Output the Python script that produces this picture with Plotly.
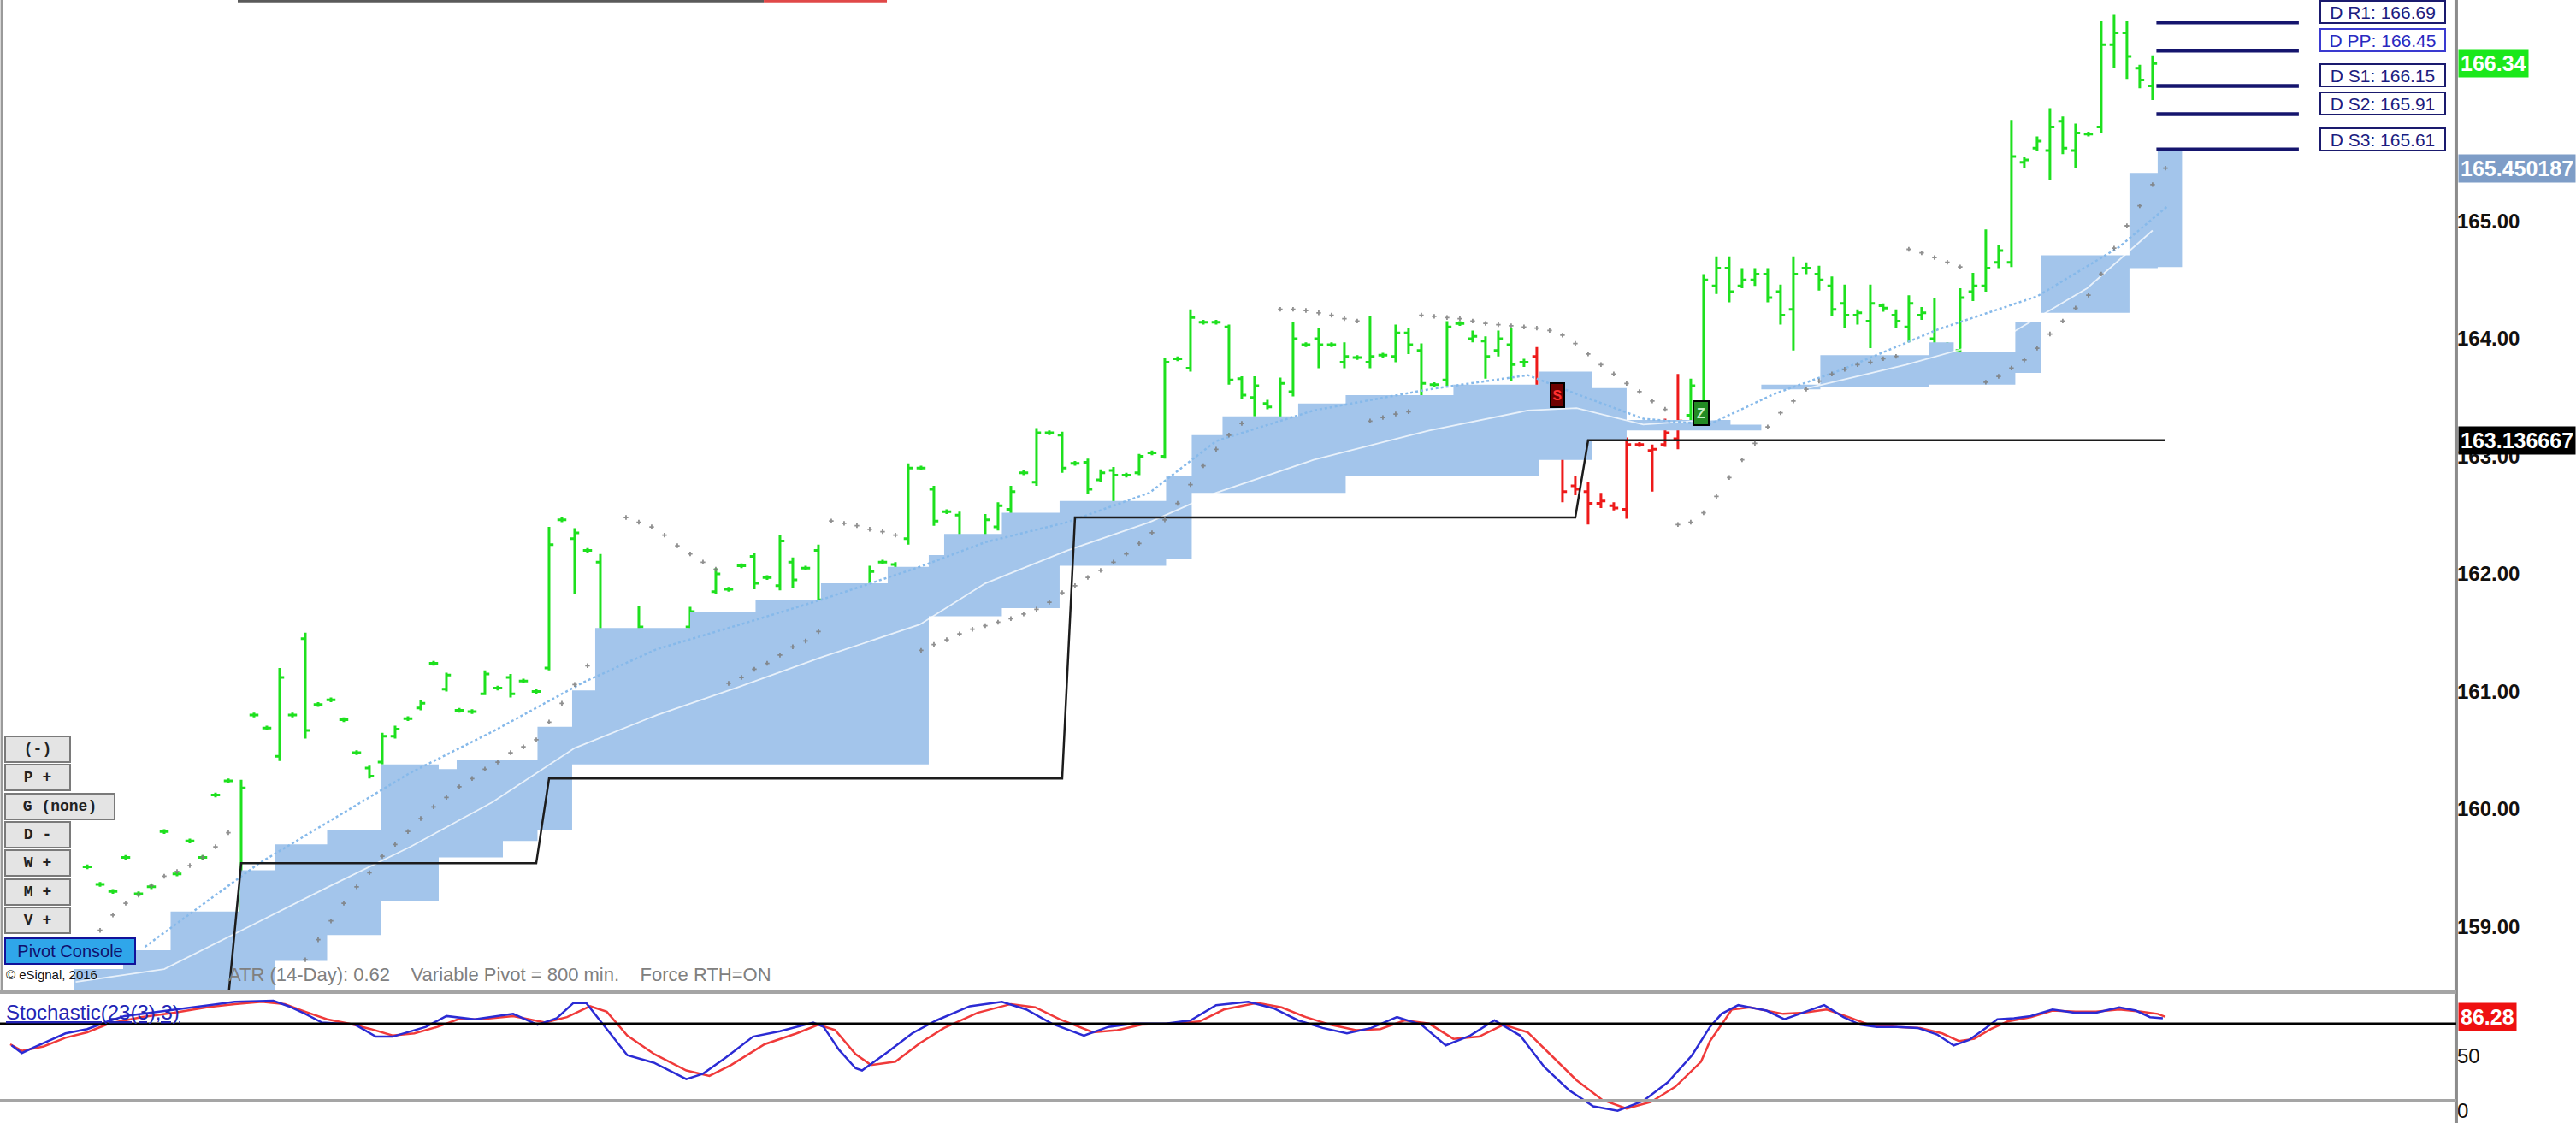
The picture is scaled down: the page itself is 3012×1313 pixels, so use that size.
import plotly.graph_objs as go

# ---------------- price bars (bar number = position in the list) ----------------
opens = [159.51, 159.36, 159.30, 159.59, 159.28, 159.34, 159.81, 159.45, 159.73, 159.59,
         160.12, 160.24, 158.60, 160.80, 160.69, 160.45, 160.80, 161.45, 160.89, 160.93,
         160.76, 160.48, 160.35, 160.40, 160.62, 160.77, 160.86, 161.24, 161.02, 160.84,
         160.83, 160.98, 161.03, 161.12, 161.09, 161.00, 161.20, 162.46, 162.30, 162.20,
         162.10, 161.42, 161.50, 161.35, 161.22, 161.14, 161.25, 161.55, 161.60, 161.85,
         161.87, 162.07, 162.15, 161.97, 161.90, 162.10, 162.05, 162.20, 161.68, 161.65,
         161.56, 161.82, 162.10, 162.08, 162.30, 162.90, 162.72, 162.53, 162.50, 162.24,
         162.28, 162.40, 162.55, 162.86, 162.78, 163.20, 163.18, 162.94, 162.95, 162.80,
         162.88, 162.84, 162.86, 163.03, 163.00, 163.83, 163.75, 164.14, 164.14, 164.10,
         163.66, 163.50, 163.45, 163.30, 163.55, 163.95, 164.00, 163.95, 163.80, 163.84,
         163.80, 163.86, 163.85, 164.05, 163.90, 163.61, 163.65, 164.13, 164.00, 163.98,
         163.90, 163.95, 163.80, 163.85, 163.30, 163.50, 162.75, 162.70, 162.60, 162.58,
         162.55, 163.10, 163.05, 163.10, 163.15, 163.35, 163.40, 164.45, 164.60, 164.45,
         164.50, 164.55, 164.40, 164.25, 164.60, 164.55, 164.45, 164.30, 164.20, 164.15,
         164.28, 164.20, 164.10, 164.20, 164.00, 163.95, 163.90, 164.40, 164.45, 164.65,
         164.65, 165.50, 165.62, 165.60, 165.85, 165.60, 165.74, 165.80, 166.50, 166.60,
         166.30, 166.15]
highs = [159.53, 159.38, 159.32, 159.61, 159.30, 159.36, 159.83, 159.47, 159.75, 159.61,
         160.14, 160.26, 160.25, 160.82, 160.71, 161.20, 160.82, 161.50, 160.91, 160.95,
         160.78, 160.50, 160.37, 160.65, 160.71, 160.79, 160.93, 161.26, 161.16, 160.86,
         160.85, 161.18, 161.05, 161.15, 161.11, 161.02, 162.40, 162.48, 162.39, 162.22,
         162.17, 161.44, 161.52, 161.73, 161.26, 161.16, 161.45, 161.72, 161.62, 162.05,
         161.89, 162.09, 162.18, 161.99, 162.33, 162.14, 162.07, 162.25, 161.70, 161.70,
         161.58, 162.07, 162.12, 162.10, 162.94, 162.92, 162.75, 162.55, 162.53, 162.26,
         162.51, 162.61, 162.75, 162.88, 163.24, 163.22, 163.21, 162.96, 162.98, 162.89,
         162.91, 162.86, 163.02, 163.05, 163.84, 163.85, 164.25, 164.16, 164.16, 164.12,
         163.68, 163.68, 163.48, 163.67, 164.14, 163.97, 164.09, 163.97, 163.97, 163.86,
         164.19, 163.88, 164.12, 164.09, 163.96, 163.63, 164.15, 164.15, 164.07, 164.02,
         164.07, 164.09, 163.83, 163.93, 163.61, 163.56, 162.83, 162.78, 162.69, 162.61,
         163.16, 163.12, 163.10, 163.32, 163.70, 163.66, 164.55, 164.70, 164.70, 164.60,
         164.60, 164.60, 164.46, 164.70, 164.65, 164.62, 164.53, 164.46, 164.25, 164.46,
         164.30, 164.25, 164.37, 164.27, 164.35, 163.97, 164.43, 164.56, 164.93, 164.80,
         165.86, 165.55, 165.72, 165.96, 165.89, 165.83, 165.76, 166.70, 166.76, 166.70,
         166.33, 166.41]
lows = [159.49, 159.34, 159.28, 159.57, 159.26, 159.32, 159.79, 159.43, 159.71, 159.57,
        160.10, 160.22, 158.45, 160.78, 160.67, 160.41, 160.78, 160.60, 160.87, 160.91,
        160.74, 160.46, 160.26, 160.38, 160.60, 160.75, 160.84, 161.22, 161.00, 160.82,
        160.81, 160.97, 161.01, 160.95, 161.07, 160.98, 161.18, 162.44, 161.83, 162.18,
        161.36, 161.40, 161.48, 161.29, 161.05, 161.12, 161.21, 161.53, 161.58, 161.83,
        161.85, 162.05, 161.87, 161.95, 161.86, 161.88, 162.03, 161.74, 161.66, 161.34,
        161.54, 161.80, 162.08, 161.86, 162.25, 162.88, 162.41, 162.51, 162.16, 162.22,
        162.24, 162.37, 162.51, 162.84, 162.75, 163.18, 162.86, 162.92, 162.68, 162.78,
        162.34, 162.82, 162.84, 163.01, 162.98, 163.81, 163.72, 164.12, 164.12, 163.61,
        163.49, 163.34, 163.40, 163.27, 163.51, 163.93, 163.75, 163.93, 163.75, 163.82,
        163.75, 163.84, 163.80, 163.87, 163.29, 163.59, 163.60, 164.11, 163.97, 163.66,
        163.85, 163.64, 163.76, 163.03, 163.12, 162.61, 162.67, 162.42, 162.56, 162.54,
        162.47, 163.08, 162.70, 163.08, 163.06, 163.29, 163.34, 164.38, 164.31, 164.43,
        164.45, 164.31, 164.12, 163.90, 164.55, 164.41, 164.19, 164.09, 164.12, 163.92,
        164.23, 164.09, 163.97, 164.16, 163.63, 163.93, 163.84, 164.32, 164.40, 164.60,
        164.61, 165.45, 165.60, 165.35, 165.57, 165.45, 165.72, 165.75, 166.30, 166.21,
        166.13, 166.03]
closes = [159.51, 159.36, 159.30, 159.59, 159.28, 159.34, 159.81, 159.45, 159.73, 159.59,
          160.12, 160.24, 160.18, 160.80, 160.69, 161.12, 160.80, 160.67, 160.89, 160.93,
          160.76, 160.48, 160.28, 160.62, 160.68, 160.77, 160.90, 161.24, 161.14, 160.84,
          160.83, 161.15, 161.03, 160.98, 161.09, 161.00, 162.25, 162.46, 162.35, 162.20,
          161.45, 161.42, 161.50, 161.55, 161.12, 161.14, 161.40, 161.68, 161.60, 162.00,
          161.87, 162.07, 161.92, 161.97, 162.28, 161.95, 162.05, 161.78, 161.68, 161.40,
          161.56, 162.02, 162.10, 161.90, 162.90, 162.90, 162.45, 162.53, 162.20, 162.24,
          162.46, 162.58, 162.70, 162.86, 163.20, 163.20, 162.90, 162.94, 162.72, 162.86,
          162.84, 162.84, 163.00, 163.03, 163.80, 163.83, 164.18, 164.14, 164.14, 163.65,
          163.52, 163.60, 163.42, 163.62, 164.00, 163.95, 163.95, 163.95, 163.85, 163.84,
          163.85, 163.86, 164.05, 163.95, 163.62, 163.61, 164.10, 164.13, 164.02, 163.85,
          164.00, 163.78, 163.80, 163.25, 163.45, 162.70, 162.72, 162.60, 162.62, 162.56,
          163.10, 163.10, 163.06, 163.20, 163.30, 163.60, 164.50, 164.60, 164.40, 164.50,
          164.55, 164.35, 164.20, 164.55, 164.60, 164.50, 164.25, 164.20, 164.22, 164.30,
          164.26, 164.15, 164.30, 164.22, 163.95, 163.95, 164.35, 164.45, 164.60, 164.75,
          165.55, 165.52, 165.68, 165.80, 165.62, 165.75, 165.74, 166.50, 166.60, 166.40,
          166.20, 166.34]
# bars painted red (down trend)
red_bars = [113, 114, 115, 116, 117, 118, 119, 120, 121, 122, 123, 124]

# ---------------- stepped blue cloud ----------------
cloud_x = [-1.0, 2.8, 6.5, 11.9, 14.6, 18.7, 22.9, 27.4, 28.8, 32.4, 35.1, 37.8, 39.6, 47.0,
           52.1, 57.2, 62.4, 65.6, 66.8, 71.3, 75.8, 84.1, 86.1, 88.5, 94.4, 98.1, 106.5,
           113.2, 117.3, 120.0, 128.1, 130.5, 135.1, 143.6, 145.5, 150.3, 152.3, 159.2,
           161.4, 163.3]
cloud_top = [158.64, 158.80, 159.13, 159.48, 159.70, 159.82, 160.38, 160.34, 160.42, 160.42,
             160.70, 161.01, 161.54, 161.68, 161.78, 161.92, 162.06, 162.16, 162.34, 162.52,
             162.62, 162.83, 163.18, 163.34, 163.45, 163.52, 163.61, 163.72, 163.58, 163.31,
             163.27, 163.61, 163.86, 163.97, 163.89, 164.14, 164.71, 165.41, 165.61, 165.61]
cloud_bottom = [158.40, 158.40, 158.40, 158.40, 158.71, 158.93, 159.22, 159.59, 159.59, 159.73,
                159.82, 160.38, 160.38, 160.38, 160.38, 160.38, 160.38, 161.64, 161.64, 161.71,
                162.07, 162.13, 162.69, 162.69, 162.69, 162.83, 162.83, 162.97, 163.13, 163.22,
                163.22, 163.57, 163.59, 163.61, 163.61, 163.71, 164.22, 164.60, 164.61, 164.61]

# white average line inside the cloud
white_x = [-0.9, 6.0, 12.4, 18.8, 25.2, 31.6, 38.0, 44.4, 50.8, 57.2, 64.9, 70.0, 76.4,
           82.8, 88.0, 95.6, 104.6, 112.3, 116.1, 121.3, 127.7, 134.1, 141.8, 149.4, 155.9, 161.0]
white_y = [158.53, 158.64, 158.99, 159.34, 159.68, 160.06, 160.52, 160.80, 161.04, 161.29,
           161.57, 161.92, 162.20, 162.44, 162.69, 162.97, 163.22, 163.39, 163.41, 163.27,
           163.32, 163.58, 163.78, 164.01, 164.43, 164.92]

# light blue dotted average
ema_x = [4.5, 13.4, 25.2, 31.6, 38.7, 44.4, 50.9, 57.2, 64.9, 70.0, 76.4, 82.8, 88.0, 95.6,
         104.6, 112.3, 116.1, 121.3, 126.4, 131.5, 136.6, 144.3, 152.0, 158.4, 162.2]
ema_y = [158.83, 159.54, 160.31, 160.66, 161.08, 161.36, 161.57, 161.78, 162.06, 162.27,
         162.44, 162.69, 163.13, 163.39, 163.57, 163.69, 163.53, 163.32, 163.27, 163.53,
         163.73, 164.08, 164.36, 164.78, 165.13]

# variable pivot (black step line)
pivot_step_x = [11, 12, 35, 36, 76, 77, 116, 117, 162]
pivot_step_y = [158.40, 159.54, 159.54, 160.26, 160.26, 162.48, 162.48, 163.136667, 163.136667]

# parabolic stop dots
sar_x = [1, 2, 3, 4, 5, 6, 7, 8, 9, 10, 11,
         17, 18, 19, 20, 21, 22, 23, 24, 25, 26, 27, 28, 29, 30, 31, 32, 33, 34, 35, 36, 37, 38, 39,
         42, 43, 44, 45, 46, 47, 48, 49,
         50, 51, 52, 53, 54, 55, 56, 57,
         58, 59, 60, 61, 62, 63,
         65, 66, 67, 68, 69, 70, 71, 72, 73, 74, 75, 76, 77, 78, 79, 80, 81, 82, 83, 84, 85, 86, 87,
         88, 89, 90,
         93, 94, 95, 96, 97, 98, 99,
         100, 101, 102, 103,
         104, 105, 106, 107, 108, 109, 110, 111, 112, 113, 114, 115, 116, 117, 118, 119, 120, 121,
         122, 123,
         124, 125, 126, 127, 128, 129, 130, 131, 132, 133, 134, 135, 136, 137, 138, 139, 140, 141,
         142, 143, 144, 145, 146,
         148, 149, 150, 151, 152, 153, 154, 155, 156, 157, 158, 159, 160, 161, 162]
sar_y = [158.97, 159.10, 159.20, 159.27, 159.35, 159.43, 159.47, 159.52, 159.59, 159.68, 159.80,
         158.72, 158.89, 159.05, 159.20, 159.34, 159.46, 159.60, 159.70, 159.81, 159.92, 160.02,
         160.10, 160.19, 160.26, 160.34, 160.40, 160.48, 160.53, 160.59, 160.74, 160.90, 161.06,
         161.22,
         162.48, 162.44, 162.40, 162.33, 162.24, 162.17, 162.10, 162.04,
         161.07, 161.12, 161.19, 161.24, 161.31, 161.38, 161.43, 161.51,
         162.45, 162.43, 162.41, 162.38, 162.36, 162.33,
         161.35, 161.40, 161.44, 161.49, 161.53, 161.56, 161.59, 161.62, 161.66, 161.70, 161.76,
         161.84, 161.90, 161.97, 162.03, 162.10, 162.17, 162.26, 162.35, 162.46, 162.60, 162.76,
         162.92, 163.06, 163.18, 163.28,
         164.25, 164.25, 164.24, 164.22, 164.20, 164.17, 164.15,
         163.30, 163.33, 163.36, 163.38,
         164.20, 164.19, 164.18, 164.17, 164.15, 164.13, 164.12, 164.11, 164.10, 164.09, 164.07,
         164.03, 163.96, 163.87, 163.78, 163.70, 163.62, 163.55, 163.47, 163.40,
         162.42, 162.44, 162.52, 162.66, 162.82, 162.97, 163.11, 163.25, 163.37, 163.47, 163.57,
         163.64, 163.70, 163.74, 163.78, 163.80, 163.83, 163.85,
         164.76, 164.73, 164.69, 164.65, 164.61,
         163.63, 163.68, 163.75, 163.82, 163.92, 164.04, 164.15, 164.26, 164.37, 164.55, 164.77,
         164.96, 165.13, 165.31, 165.45]

# daily pivot levels
pivot_names = ['D R1', 'D PP', 'D S1', 'D S2', 'D S3']
pivot_levels = [166.69, 166.45, 166.15, 165.91, 165.61]
pivot_span = [161.3, 172.4]

# ---------------- stochastic (23(3),3) ----------------
k_x = [-5.9, -5.1, -4.2, -2.6, -1.7, 0.0, 1.6, 2.9, 5.5, 8.6, 11.5, 14.5, 15.7, 17.0, 18.3,
       20.9, 22.5, 23.8, 26.4, 28.0, 30.2, 33.2, 35.1, 36.6, 37.9, 38.9, 39.9, 42.1, 44.2,
       46.7, 48.0, 49.8, 51.9, 54.0, 56.6, 57.4, 58.6, 59.9, 60.4, 62.4, 64.3, 66.2, 68.8,
       71.3, 73.2, 75.2, 77.7, 79.6, 81.6, 84.1, 86.0, 88.0, 90.5, 92.5, 94.4, 96.3, 98.2,
       100.1, 102.1, 104.0, 105.9, 107.8, 109.7, 111.7, 113.6, 115.5, 117.4, 119.3, 121.3,
       123.2, 125.1, 126.5, 127.4, 128.7, 129.6, 130.9, 132.3, 133.5, 135.4, 136.9, 138.2,
       139.5, 141.1, 142.7, 144.2, 145.5, 146.7, 148.0, 148.9, 150.2, 151.5, 153.2, 154.9,
       156.6, 158.4, 159.7, 160.8, 161.8]
k_val = [60, 53, 58, 66, 71, 75, 82, 87, 91, 96, 100, 101, 96, 89, 81, 79, 68, 68, 77, 87,
         84, 89, 79, 85, 99, 99, 84, 51, 44, 29, 34, 49, 68, 73, 81, 77, 56, 39, 37, 54,
         71, 83, 96, 100, 93, 80, 69, 77, 80, 80, 83, 97, 100, 94, 83, 76, 71, 76, 86, 79,
         60, 69, 83, 69, 40, 19, 4, 0, 9, 26, 51, 77, 89, 97, 95, 92, 84, 89, 97, 86,
         79, 77, 77, 76, 70, 60, 65, 76, 84, 85, 87, 93, 90, 90, 95, 92, 86, 85]
d_x = [-6.0, -5.1, -3.4, -1.7, 0.0, 1.7, 4.2, 6.8, 9.3, 11.5, 13.6, 15.4, 17.0, 18.7, 20.4,
       22.1, 23.8, 25.5, 27.3, 28.9, 30.6, 33.2, 35.7, 37.4, 39.2, 40.5, 42.1, 44.2, 46.7,
       48.5, 50.2, 52.8, 55.3, 57.0, 58.3, 59.9, 61.1, 63.0, 64.9, 66.8, 69.4, 72.0, 73.9,
       75.8, 78.4, 80.3, 82.2, 84.8, 86.7, 88.6, 91.2, 93.1, 95.0, 96.9, 98.9, 100.8, 102.7,
       104.6, 106.5, 108.5, 110.4, 112.3, 114.2, 116.1, 118.1, 120.0, 121.9, 123.8, 125.8,
       126.5, 127.4, 128.2, 129.6, 130.9, 132.2, 133.8, 135.6, 137.3, 138.9, 141.1, 142.9,
       144.6, 145.9, 147.1, 148.4, 149.7, 151.5, 153.2, 155.0, 156.6, 158.4, 160.1, 161.4, 162.0]
d_val = [61, 55, 59, 67, 72, 80, 86, 90, 95, 98, 100, 98, 91, 84, 80, 75, 69, 71, 77, 84,
         84, 87, 81, 86, 96, 91, 69, 52, 37, 32, 42, 61, 71, 79, 74, 52, 42, 45, 62, 76,
         90, 98, 95, 84, 72, 74, 79, 80, 82, 93, 99, 95, 86, 79, 74, 75, 83, 80, 66, 68,
         79, 72, 50, 28, 10, 2, 8, 22, 45, 64, 79, 93, 95, 92, 89, 90, 93, 86, 79, 77,
         76, 71, 64, 66, 75, 82, 86, 92, 91, 91, 93, 91, 89, 86.28]
stoch_level = 80

price_ticks = [159, 160, 161, 162, 163, 164, 165]
stoch_ticks = [0, 50]

# ---------------- build the figure ----------------
fig = go.Figure()

# cloud: lower edge first, then the upper edge filled down to it
fig.add_trace(go.Scatter(x=cloud_x, y=cloud_bottom, mode='lines',
                         line=dict(width=0, shape='hv'), hoverinfo='skip'))
fig.add_trace(go.Scatter(x=cloud_x, y=cloud_top, mode='lines', fill='tonexty',
                         fillcolor='#A3C5EB', line=dict(width=0, shape='hv'), hoverinfo='skip'))
fig.add_trace(go.Scatter(x=white_x, y=white_y, mode='lines',
                         line=dict(color='rgba(255,255,255,0.75)', width=1.8)))
fig.add_trace(go.Scatter(x=ema_x, y=ema_y, mode='lines',
                         line=dict(color='#86B9EA', width=2.5, dash='dot')))

# variable pivot step line
fig.add_trace(go.Scatter(x=pivot_step_x, y=pivot_step_y, mode='lines',
                         line=dict(color='#1c1c1c', width=2.5)))

# stop dots
fig.add_trace(go.Scatter(x=sar_x, y=sar_y, mode='markers',
                         marker=dict(symbol='cross', size=4.5, color='#7c7c7c', opacity=0.85)))

# bars, split by colour
bar_x = list(range(len(opens)))
for color, keep in [('#1EE01E', False), ('#EE1A1A', True)]:
    idx = [i for i in bar_x if (i in red_bars) == keep]
    fig.add_trace(go.Ohlc(
        x=idx,
        open=[opens[i] for i in idx], high=[highs[i] for i in idx],
        low=[lows[i] for i in idx], close=[closes[i] for i in idx],
        increasing=dict(line=dict(color=color, width=3)),
        decreasing=dict(line=dict(color=color, width=3)),
        tickwidth=0.35, hoverinfo='skip'))

# daily pivot lines
for lvl in pivot_levels:
    fig.add_trace(go.Scatter(x=pivot_span, y=[lvl, lvl], mode='lines',
                             line=dict(color='#15156e', width=4.5)))

# stochastic lines
fig.add_trace(go.Scatter(x=d_x, y=d_val, mode='lines', xaxis='x2', yaxis='y2',
                         line=dict(color='#F03A3A', width=2.5)))
fig.add_trace(go.Scatter(x=k_x, y=k_val, mode='lines', xaxis='x2', yaxis='y2',
                         line=dict(color='#2B2BD4', width=2.5)))

axis_x = 0.9535
xr = [-6.8, 184.67]
fig.update_layout(
    width=3012, height=1313,
    margin=dict(l=0, r=0, t=0, b=0),
    paper_bgcolor='white', plot_bgcolor='white',
    showlegend=False,
    xaxis=dict(domain=[0, axis_x], range=xr, visible=False, rangeslider=dict(visible=False)),
    yaxis=dict(domain=[0.1165, 1], range=[158.444, 166.88], side='right',
               tickvals=price_ticks, ticktext=['%.2f' % v for v in price_ticks],
               showgrid=False, zeroline=False, showline=False, ticks='',
               tickfont=dict(family='Liberation Sans, Arial', size=24, color='#111111',
                             weight='bold')),
    xaxis2=dict(domain=[0, axis_x], range=xr, visible=False, anchor='y2'),
    yaxis2=dict(domain=[0, 0.1165], range=[-11.3, 108.9], side='right', anchor='x2',
                tickvals=stoch_ticks, ticktext=[str(v) for v in stoch_ticks],
                showgrid=False, zeroline=False, showline=False, ticks='',
                tickfont=dict(family='Liberation Sans, Arial', size=24, color='#111111')),
)

shapes = [
    # right axis line
    dict(type='line', xref='paper', yref='paper', x0=axis_x, x1=axis_x, y0=0, y1=1,
         line=dict(color='#8c8c8c', width=4)),
    # left window border
    dict(type='line', xref='paper', yref='paper', x0=0.0007, x1=0.0007, y0=0.1165, y1=1,
         line=dict(color='#9a9a9a', width=3)),
    # stochastic pane separators
    dict(type='line', xref='paper', yref='paper', x0=0, x1=axis_x, y0=0.1165, y1=0.1165,
         line=dict(color='#a5a5a5', width=4)),
    dict(type='line', xref='paper', yref='paper', x0=0, x1=axis_x, y0=0.0198, y1=0.0198,
         line=dict(color='#a5a5a5', width=4)),
    # stochastic 80 level
    dict(type='line', xref='paper', yref='y2', x0=0, x1=axis_x, y0=stoch_level, y1=stoch_level,
         line=dict(color='black', width=2.5)),
    # faint strip at the very top
    dict(type='line', xref='paper', yref='paper', x0=0.0923, x1=0.2965, y0=0.999, y1=0.999,
         line=dict(color='#5a5a5a', width=3)),
    dict(type='line', xref='paper', yref='paper', x0=0.2965, x1=0.3443, y0=0.999, y1=0.999,
         line=dict(color='#e04848', width=3)),
]
fig.update_layout(shapes=shapes)

ann = []
# pivot level boxes
for name, lvl in zip(pivot_names, pivot_levels):
    edge = '#3a3ad0' if name == 'D PP' else '#1a1a6e'
    ann.append(dict(xref='paper', yref='y', x=0.9004, y=lvl, xanchor='left', yanchor='middle',
                    yshift=12, text='%s: %.2f' % (name, lvl), showarrow=False,
                    width=142, height=22, bgcolor='white', bordercolor=edge, borderwidth=2,
                    borderpad=1, font=dict(family='Liberation Sans, Arial', size=21,
                                           color='#1c1c80' if name != 'D PP' else '#2a2ac0')))

# value labels on the right axis
for txt, yv, yref, bg in [('166.34', 166.34, 'y', '#1BE81B'),
                          ('165.450187', 165.450187, 'y', '#7E9DC7'),
                          ('163.136667', 163.136667, 'y', '#000000'),
                          ('86.28', 86.28, 'y2', '#EE1111')]:
    ann.append(dict(xref='paper', yref=yref, x=axis_x + 0.0007, y=yv, xanchor='left',
                    yanchor='middle', text=txt, showarrow=False, bgcolor=bg, borderpad=2,
                    font=dict(family='Liberation Sans, Arial', size=25, color='white',
                              weight='bold')))

# signal boxes
ann.append(dict(xref='x', yref='y', x=114.6, y=163.52, text='<b>S</b>', showarrow=False,
                bgcolor='#6e0000', bordercolor='black', borderwidth=2, width=12, height=24,
                font=dict(family='Liberation Sans, Arial', size=16, color='#ff3030')))
ann.append(dict(xref='x', yref='y', x=125.8, y=163.37, text='<b>Z</b>', showarrow=False,
                bgcolor='#238b23', bordercolor='black', borderwidth=2, width=14, height=24,
                font=dict(family='Liberation Sans, Arial', size=16, color='#c8f2c8')))

# eSignal buttons on the left
buttons = [('(-)', 0.3328, 72), ('P +', 0.3077, 72), ('G (none)', 0.2818, 124),
           ('D -', 0.2567, 72), ('W +', 0.2315, 72), ('M +', 0.2056, 72), ('V +', 0.1805, 72)]
for txt, yp, w in buttons:
    ann.append(dict(xref='paper', yref='paper', x=0.0017, y=yp, xanchor='left',
                    yanchor='middle', text='<b>%s</b>' % txt, showarrow=False, width=w,
                    height=26, align='center', bgcolor='#E4E4E4', bordercolor='#7a7a7a',
                    borderwidth=2, font=dict(family='Liberation Mono, Courier New', size=18,
                                             color='#222222')))
ann.append(dict(xref='paper', yref='paper', x=0.0017, y=0.1531, xanchor='left',
                yanchor='middle', text='Pivot Console', showarrow=False, width=148, height=26,
                bgcolor='#2FA6EA', bordercolor='#12129a', borderwidth=2,
                font=dict(family='Liberation Sans, Arial', size=20, color='#10106e')))
ann.append(dict(xref='paper', yref='paper', x=0.0017, y=0.1325, xanchor='left',
                yanchor='middle', text='\u00a9 eSignal, 2016', showarrow=False,
                font=dict(family='Liberation Sans, Arial', size=15, color='#111111')))
ann.append(dict(xref='paper', yref='paper', x=0.088, y=0.1325, xanchor='left',
                yanchor='middle', showarrow=False,
                text='ATR (14-Day): 0.62\u00a0\u00a0\u00a0\u00a0Variable Pivot = 800 min.'
                     '\u00a0\u00a0\u00a0\u00a0Force RTH=ON',
                font=dict(family='Liberation Sans, Arial', size=22, color='#808080')))
ann.append(dict(xref='paper', yref='paper', x=0.0017, y=0.099, xanchor='left',
                yanchor='middle', showarrow=False, text='<u>Stochastic(23(3),3)</u>',
                font=dict(family='Liberation Sans, Arial', size=24, color='#2525B5')))
fig.update_layout(annotations=ann)

fig.write_html("out.html", config={'displayModeBar': False},
               post_script="document.body.style.margin='0';")
